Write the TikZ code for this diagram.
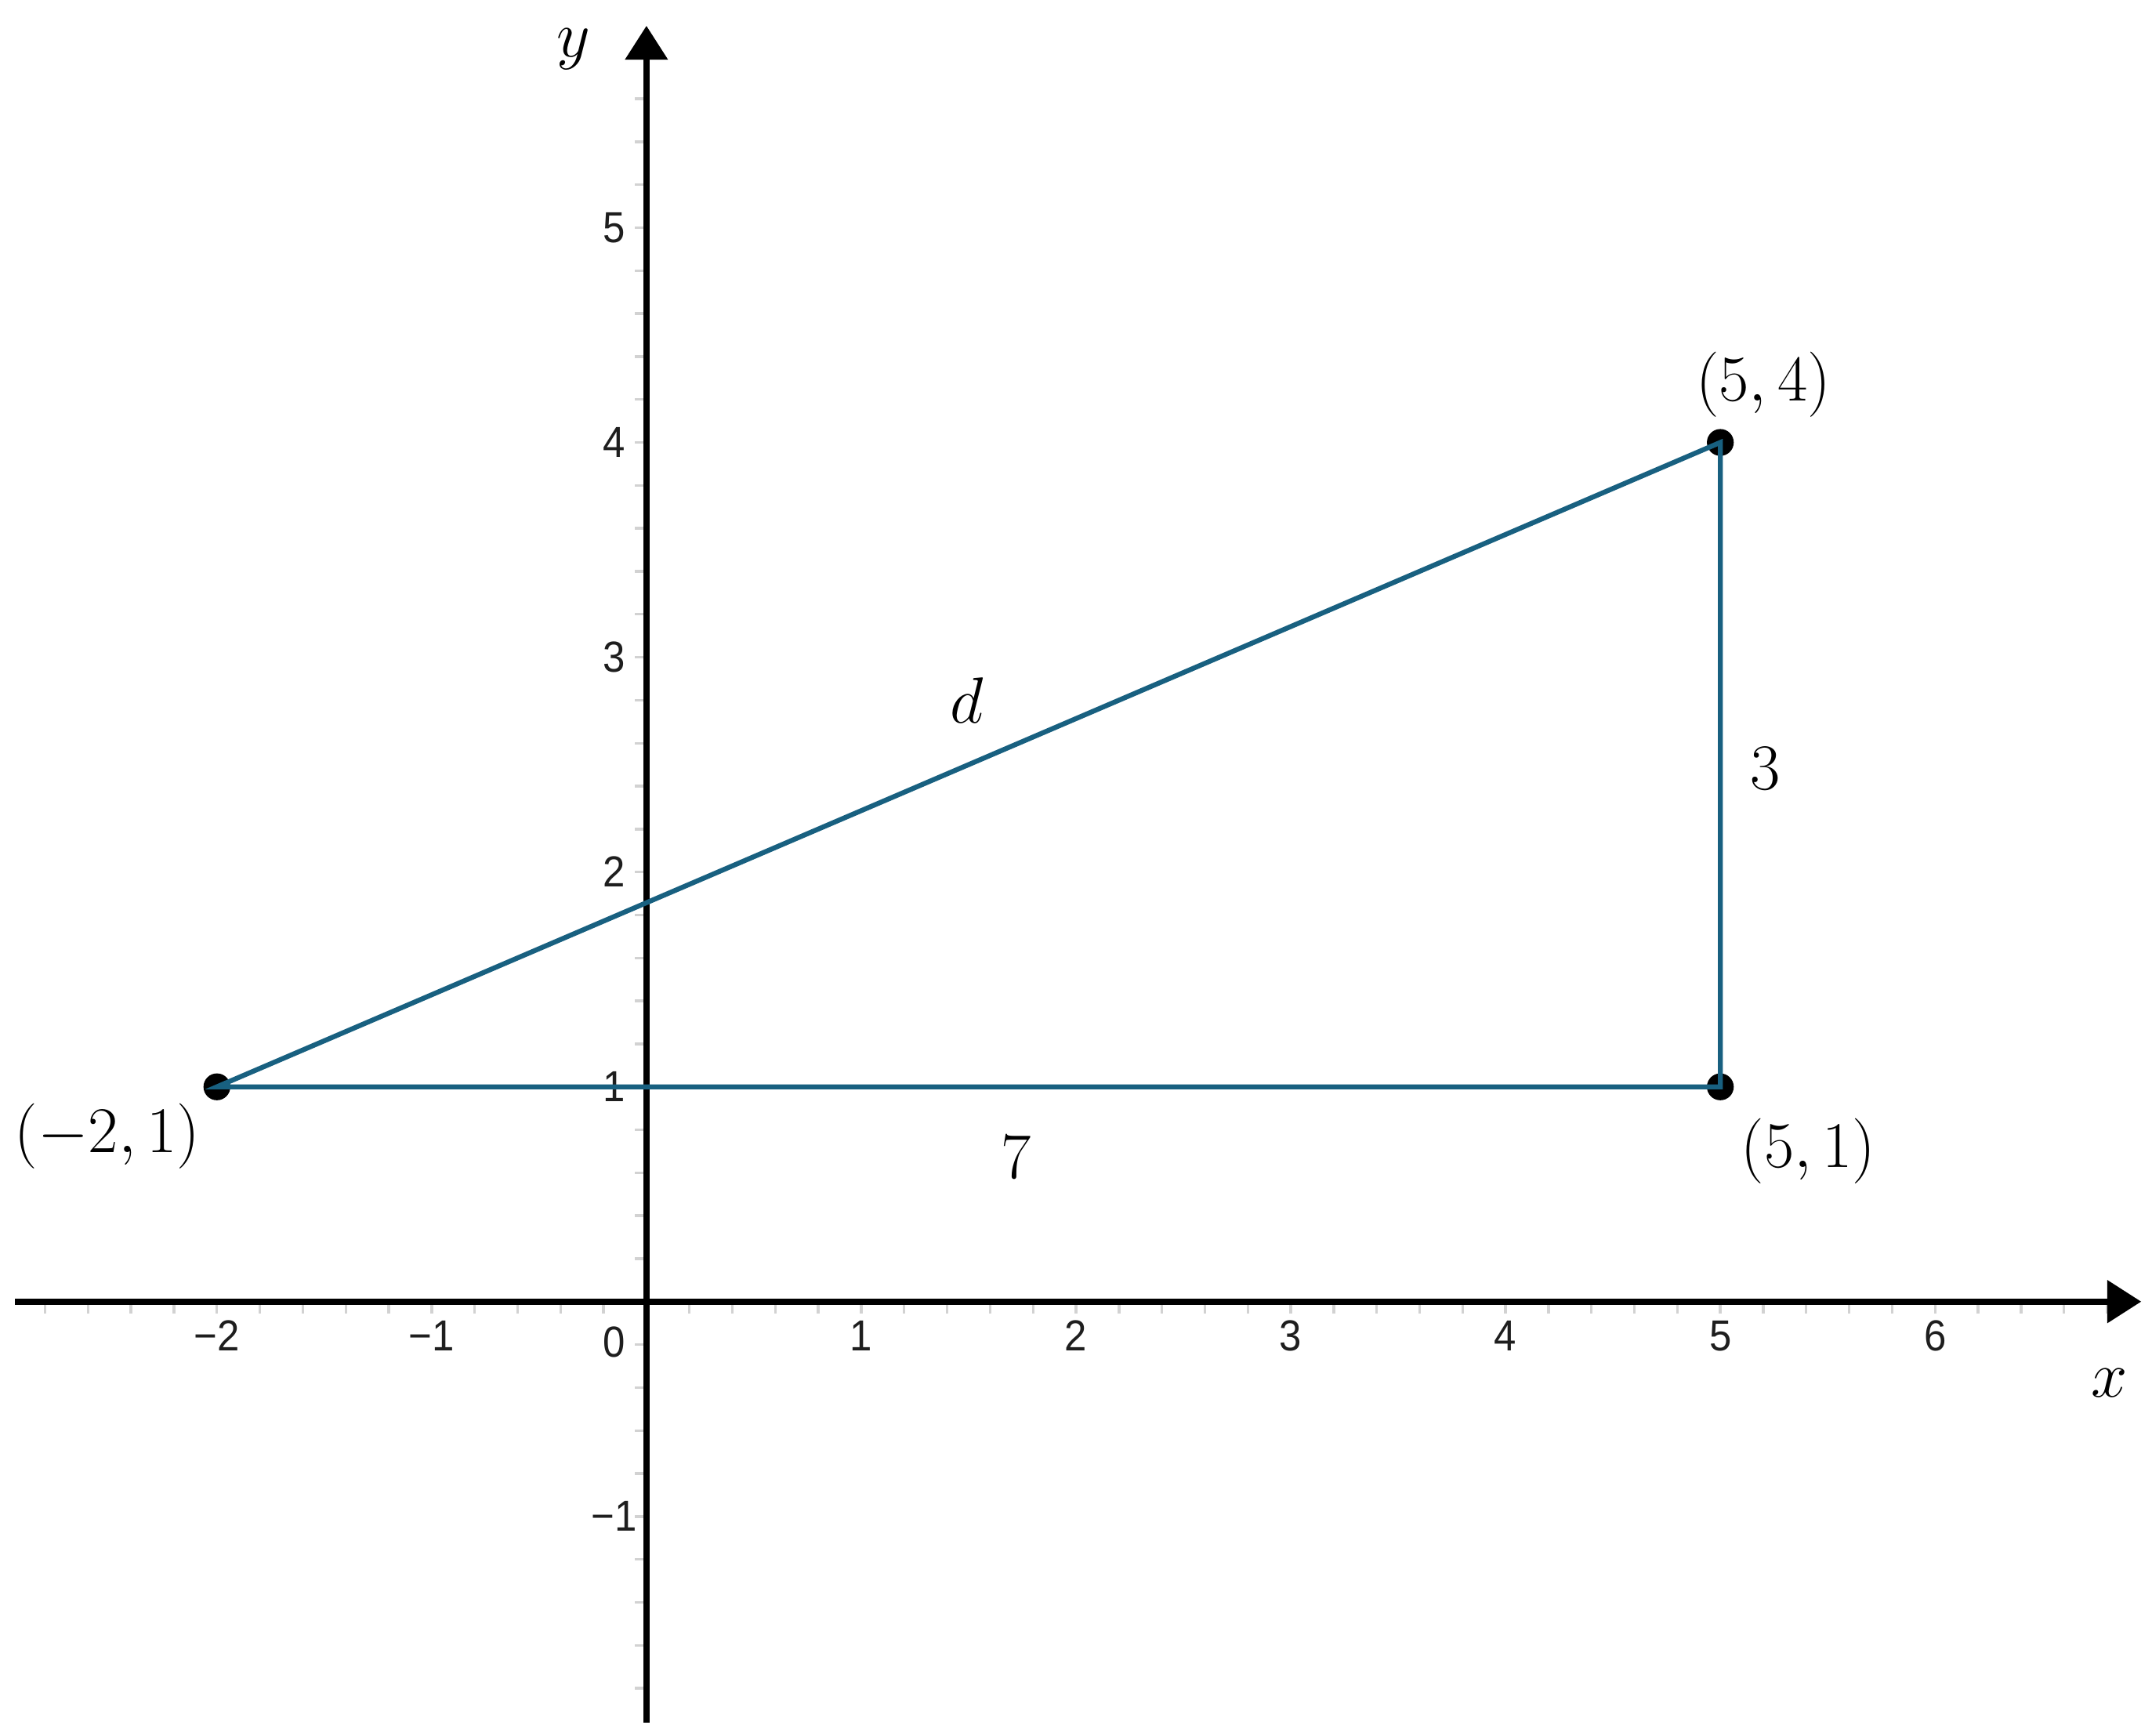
\documentclass[tikz,border=0pt]{standalone}
\usepackage{fontspec}
\setsansfont{Liberation Sans}
\usetikzlibrary{arrows.meta}
\definecolor{segblue}{RGB}{24,96,128}
\definecolor{tickgray}{RGB}{210,210,210}
\definecolor{labelgray}{RGB}{30,30,30}
\tikzset{
    axis/.style={line width=1.7pt, -{Triangle[width=11pt,length=9pt]}},
    minortick/.style={tickgray, line width=0.7pt},
    ticklabel/.style={font=\sffamily\fontsize{11.5}{13}\selectfont, text=labelgray, inner sep=0pt, xscale=0.92},
    seg/.style={segblue, line width=1.3pt},
    dot/.style={circle, fill=black, inner sep=0pt, minimum size=0.25cm},
    mathlabel/.style={font=\fontsize{16}{19}\selectfont, inner sep=0pt}
}
\begin{document}
\begin{tikzpicture}[x=2cm,y=2cm]
    \useasboundingbox (-3.01,-2.02) rectangle (7.01,6.06);
    % minor ticks
    \foreach \t in {-14,...,34}
        \draw[minortick] (\t/5,0) -- (\t/5,-0.055);
    \foreach \t in {-9,...,29}
        \draw[minortick] (0,\t/5) -- (-0.055,\t/5);
    % axes
    \coordinate (xstart) at (-2.94,0);
    \coordinate (xend) at (6.96,0);
    \coordinate (ystart) at (0,-1.96);
    \coordinate (yend) at (0,5.94);
    \draw[axis] (xstart) -- (xend);
    \draw[axis] (ystart) -- (yend);
    \node[mathlabel] (xlabel) at (6.81,-0.38) {$x$};
    \node[mathlabel] (ylabel) at (-0.34,5.83) {$y$};
    % tick labels
    \foreach \n/\s in {-2/{−2},-1/{−1},1/1,2/2,3/3,4/4,5/5,6/6}
        \node[ticklabel] (xt\n) at (\n,-0.16) {\s};
    \foreach \n/\s in {-1/{−1},1/1,2/2,3/3,4/4,5/5}
        \node[ticklabel] (yt\n) at (-0.15,\n) {\s};
    \node[ticklabel] (origin) at (-0.15,-0.19) {0};
    % points
    \node[dot] (A) at (-2,1) {};
    \node[dot] (B) at (5,1) {};
    \node[dot] (C) at (5,4) {};
    \draw[seg] (A.center) -- (B.center) -- (C.center) -- cycle;
    % labels
    \node[mathlabel] (Alabel) at (-2.51,0.77) {$(-2,1)$};
    \node[mathlabel] (Blabel) at (5.41,0.70) {$(5,1)$};
    \node[mathlabel] (Clabel) at (5.20,4.27) {$(5,4)$};
    \node[mathlabel] (dlabel) at (1.49,2.80) {$d$};
    \node[mathlabel] (vlabel) at (5.21,2.48) {$3$};
    \node[mathlabel] (hlabel) at (1.72,0.67) {$7$};
\end{tikzpicture}
\end{document}
